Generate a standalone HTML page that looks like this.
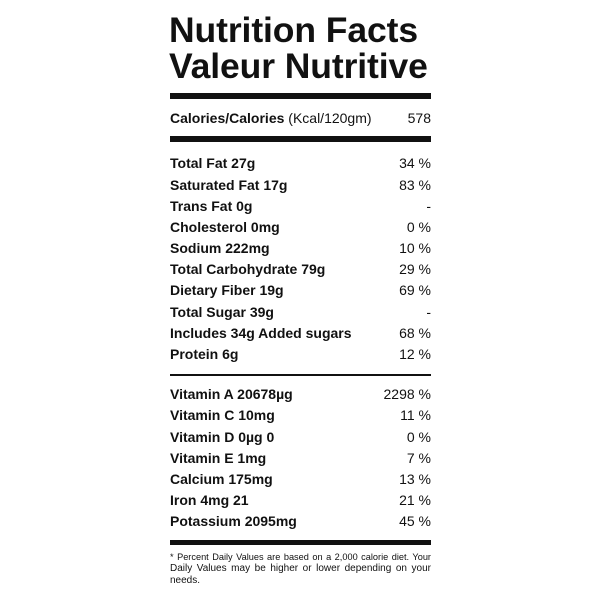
<!DOCTYPE html>
<html><head><style>
body{margin:0;width:600px;height:600px;background:#fff;font-family:"Liberation Sans",sans-serif;color:#111;position:relative;overflow:hidden}
.t{position:absolute;left:169px;font-weight:bold;font-size:35.5px;letter-spacing:-0.1px;line-height:1}
.bar{position:absolute;left:170px;width:261px;background:#111}
.r{position:absolute;left:170px;width:261px;font-size:14px;line-height:16px;display:flex;justify-content:space-between}
.r b{font-weight:bold}
.fn{position:absolute;left:170px;width:261px;font-size:10px;line-height:12px;white-space:nowrap}
.fn div{text-align:justify;text-align-last:justify}
.fn div.l{text-align-last:left}
</style></head><body>
<div class="t" style="top:13px">Nutrition Facts</div>
<div class="t" style="top:49px">Valeur Nutritive</div>
<div class="bar" style="top:93px;height:6px"></div>
<div class="r" style="top:110px"><span><b>Calories/Calories</b> (Kcal/120gm)</span><span>578</span></div>
<div class="bar" style="top:136px;height:6px"></div>
<div class="r" style="top:155px"><b>Total Fat 27g</b><span>34 %</span></div>
<div class="r" style="top:177px"><b>Saturated Fat 17g</b><span>83 %</span></div>
<div class="r" style="top:198px"><b>Trans Fat 0g</b><span>-</span></div>
<div class="r" style="top:219px"><b>Cholesterol 0mg</b><span>0 %</span></div>
<div class="r" style="top:240px"><b>Sodium 222mg</b><span>10 %</span></div>
<div class="r" style="top:261px"><b>Total Carbohydrate 79g</b><span>29 %</span></div>
<div class="r" style="top:282px"><b>Dietary Fiber 19g</b><span>69 %</span></div>
<div class="r" style="top:304px"><b>Total Sugar 39g</b><span>-</span></div>
<div class="r" style="top:325px"><b>Includes 34g Added sugars</b><span>68 %</span></div>
<div class="r" style="top:346px"><b>Protein 6g</b><span>12 %</span></div>
<div class="bar" style="top:374px;height:2px"></div>
<div class="r" style="top:386px"><b>Vitamin A 20678µg</b><span>2298 %</span></div>
<div class="r" style="top:407px"><b>Vitamin C 10mg</b><span>11 %</span></div>
<div class="r" style="top:429px"><b>Vitamin D 0µg 0</b><span>0 %</span></div>
<div class="r" style="top:450px"><b>Vitamin E 1mg</b><span>7 %</span></div>
<div class="r" style="top:471px"><b>Calcium 175mg</b><span>13 %</span></div>
<div class="r" style="top:492px"><b>Iron 4mg 21</b><span>21 %</span></div>
<div class="r" style="top:513px"><b>Potassium 2095mg</b><span>45 %</span></div>
<div class="bar" style="top:540px;height:5px"></div>
<div class="fn" style="top:551px">
<div style="font-size:9.2px">* Percent Daily Values are based on a 2,000 calorie diet. Your</div>
<div>Daily Values may be higher or lower depending on your</div>
<div class="l">needs.</div>
</div>
</body></html>
